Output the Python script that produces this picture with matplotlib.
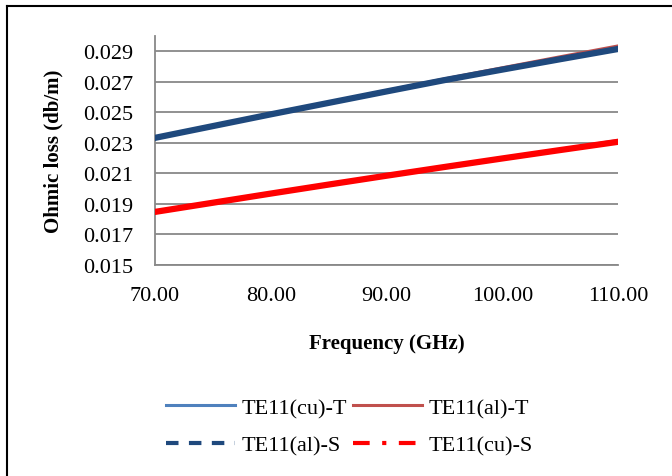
import numpy as np
import matplotlib
matplotlib.use("Agg")
import matplotlib.pyplot as plt
from matplotlib.lines import Line2D

# frequency (GHz) and ohmic loss (db/m)
freq = [70, 75, 80, 85, 90, 95, 100, 105, 110]
cu_T = [0.01849, 0.01910, 0.01970, 0.02029, 0.02087, 0.02145, 0.02201, 0.02258, 0.02316]
al_T = [0.02333, 0.02411, 0.02489, 0.02566, 0.02643, 0.02719, 0.02792, 0.02864, 0.02935]
al_S = [0.02333, 0.02410, 0.02487, 0.02562, 0.02637, 0.02711, 0.02780, 0.02848, 0.02915]
cu_S = [0.01848, 0.01908, 0.01968, 0.02027, 0.02085, 0.02142, 0.02198, 0.02253, 0.02307]

yticks = [0.015, 0.017, 0.019, 0.021, 0.023, 0.025, 0.027, 0.029]
xticks = [70, 80, 90, 100, 110]

plt.rcParams['font.family'] = ['Liberation Serif', 'DejaVu Serif']

fig = plt.figure(figsize=(6.72, 4.77), dpi=100)
ax = fig.add_axes([0.2307, 0.4423, 0.6889, 0.4801])

c_cuT = '#4F81BD'
c_alT = '#C0504D'
c_alS = '#1F497D'
c_cuS = '#FF0000'

ax.plot(freq, cu_T, color=c_cuT, lw=2.2, zorder=3)
ax.plot(freq, al_T, color=c_alT, lw=2.2, zorder=3)
ax.plot(freq, al_S, color=c_alS, lw=4.5, zorder=4)
ax.plot(freq, cu_S, color=c_cuS, lw=4.5, zorder=4)

ax.set_xlim(70, 110)
ax.set_ylim(0.015, 0.030)
ax.set_yticks(yticks)
ax.set_yticklabels(['%.3f' % v for v in yticks])
ax.set_xticks(xticks)
ax.set_xticklabels(['%.2f' % v for v in xticks])
ax.tick_params(axis='both', length=0, labelsize=16)
ax.tick_params(axis='y', pad=16)
ax.tick_params(axis='x', pad=15)

ax.grid(axis='y', color='#888888', lw=1.3)
ax.set_axisbelow(True)
for s in ['top', 'right']:
    ax.spines[s].set_visible(False)
for s in ['left', 'bottom']:
    ax.spines[s].set_color('#888888')
    ax.spines[s].set_linewidth(1.3)

ax.set_ylabel('Ohmic loss (db/m)', fontsize=15, fontweight='bold', labelpad=14)
ax.set_xlabel('Frequency (GHz)', fontsize=15, fontweight='bold', labelpad=20)

handles = [
    Line2D([], [], color=c_cuT, lw=2.2),
    Line2D([], [], color=c_alS, lw=3, ls=(0, (3, 2.5))),
    Line2D([], [], color=c_alT, lw=2.2),
    Line2D([], [], color=c_cuS, lw=3, ls=(0, (4, 3, 1, 3))),
]
labels = ['TE11(cu)-T', 'TE11(al)-S', 'TE11(al)-T', 'TE11(cu)-S']
fig.legend(handles, labels, loc='center', bbox_to_anchor=(0.52, 0.104), ncol=2,
           frameon=False, fontsize=16, handlelength=3.1, columnspacing=0.3,
           labelspacing=0.75, handletextpad=0.3)

# outer border (only left and top visible in the original)
fig.add_artist(Line2D([0.0105, 0.0105], [0, 0.985], color='black', lw=1.5, transform=fig.transFigure))
fig.add_artist(Line2D([0.0105, 1], [0.985, 0.985], color='black', lw=1.5, transform=fig.transFigure))

fig.savefig('out.png', dpi=100)
